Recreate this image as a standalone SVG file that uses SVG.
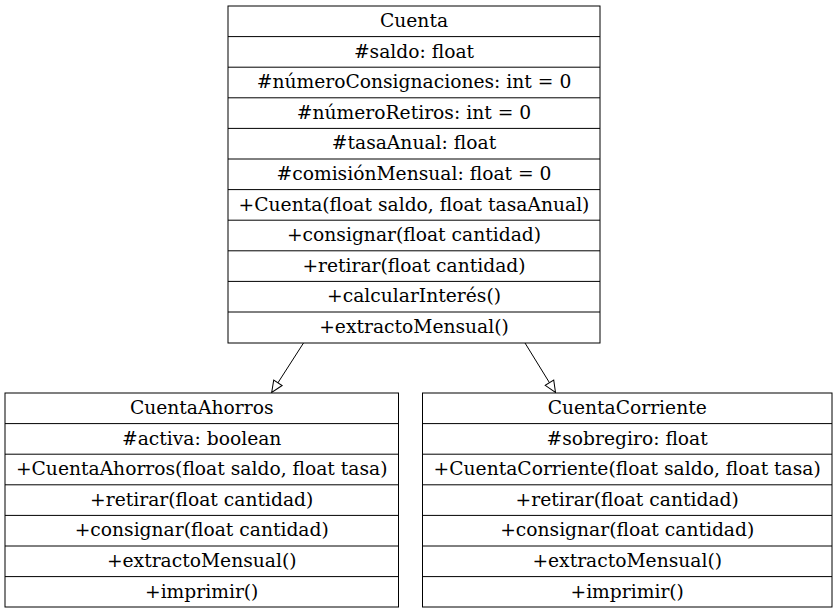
<svg xmlns="http://www.w3.org/2000/svg" width="837" height="613" viewBox="0 0 837 613">
<style>
.box{fill:#fff;stroke:#000;stroke-width:1}
.sep{stroke:#000;stroke-width:1}
text{font-family:"DejaVu Serif","Liberation Serif",serif;font-size:18.7px;text-anchor:middle;fill:#000}
.edge{stroke:#000;stroke-width:1;fill:none}
</style>
<defs>
<marker id="tri" viewBox="0 0 14 12" refX="12.5" refY="6" markerWidth="14" markerHeight="12" markerUnits="userSpaceOnUse" orient="auto">
<path d="M1,1 L12.5,6 L1,11 Z" fill="#fff" stroke="#000" stroke-width="1"/>
</marker>
</defs>
<rect width="837" height="613" fill="#fff"/>
<g id="connectors">
<line class="edge" x1="303.5" y1="343" x2="271.7" y2="392.5" marker-end="url(#tri)"/>
<line class="edge" x1="525" y1="343" x2="555.5" y2="392.5" marker-end="url(#tri)"/>
</g>
<g id="Cuenta">
<rect class="box" x="228" y="6" width="372" height="337"/>
<line class="sep" x1="228" y1="36.6" x2="600" y2="36.6"/>
<line class="sep" x1="228" y1="67.2" x2="600" y2="67.2"/>
<line class="sep" x1="228" y1="97.8" x2="600" y2="97.8"/>
<line class="sep" x1="228" y1="128.4" x2="600" y2="128.4"/>
<line class="sep" x1="228" y1="159" x2="600" y2="159"/>
<line class="sep" x1="228" y1="189.6" x2="600" y2="189.6"/>
<line class="sep" x1="228" y1="220.2" x2="600" y2="220.2"/>
<line class="sep" x1="228" y1="250.8" x2="600" y2="250.8"/>
<line class="sep" x1="228" y1="281.4" x2="600" y2="281.4"/>
<line class="sep" x1="228" y1="312" x2="600" y2="312"/>
<text x="414" y="27">Cuenta</text>
<text x="414" y="57.6">#saldo: float</text>
<text x="414" y="88.2">#númeroConsignaciones: int = 0</text>
<text x="414" y="118.8">#númeroRetiros: int = 0</text>
<text x="414" y="149.4">#tasaAnual: float</text>
<text x="414" y="180">#comisiónMensual: float = 0</text>
<text x="414" y="210.6">+Cuenta(float saldo, float tasaAnual)</text>
<text x="414" y="241.2">+consignar(float cantidad)</text>
<text x="414" y="271.8">+retirar(float cantidad)</text>
<text x="414" y="302.4">+calcularInterés()</text>
<text x="414" y="333">+extractoMensual()</text>
</g>
<g id="CuentaAhorros">
<rect class="box" x="5" y="393" width="393.5" height="214"/>
<line class="sep" x1="5" y1="423.6" x2="398.5" y2="423.6"/>
<line class="sep" x1="5" y1="454.2" x2="398.5" y2="454.2"/>
<line class="sep" x1="5" y1="484.8" x2="398.5" y2="484.8"/>
<line class="sep" x1="5" y1="515.4" x2="398.5" y2="515.4"/>
<line class="sep" x1="5" y1="546" x2="398.5" y2="546"/>
<line class="sep" x1="5" y1="576.6" x2="398.5" y2="576.6"/>
<text x="201.7" y="414">CuentaAhorros</text>
<text x="201.7" y="444.6">#activa: boolean</text>
<text x="201.7" y="475.2">+CuentaAhorros(float saldo, float tasa)</text>
<text x="201.7" y="505.8">+retirar(float cantidad)</text>
<text x="201.7" y="536.4">+consignar(float cantidad)</text>
<text x="201.7" y="567">+extractoMensual()</text>
<text x="201.7" y="597.6">+imprimir()</text>
</g>
<g id="CuentaCorriente">
<rect class="box" x="422.5" y="393" width="409.5" height="214"/>
<line class="sep" x1="422.5" y1="423.6" x2="832" y2="423.6"/>
<line class="sep" x1="422.5" y1="454.2" x2="832" y2="454.2"/>
<line class="sep" x1="422.5" y1="484.8" x2="832" y2="484.8"/>
<line class="sep" x1="422.5" y1="515.4" x2="832" y2="515.4"/>
<line class="sep" x1="422.5" y1="546" x2="832" y2="546"/>
<line class="sep" x1="422.5" y1="576.6" x2="832" y2="576.6"/>
<text x="627.2" y="414">CuentaCorriente</text>
<text x="627.2" y="444.6">#sobregiro: float</text>
<text x="627.2" y="475.2">+CuentaCorriente(float saldo, float tasa)</text>
<text x="627.2" y="505.8">+retirar(float cantidad)</text>
<text x="627.2" y="536.4">+consignar(float cantidad)</text>
<text x="627.2" y="567">+extractoMensual()</text>
<text x="627.2" y="597.6">+imprimir()</text>
</g>
</svg>
